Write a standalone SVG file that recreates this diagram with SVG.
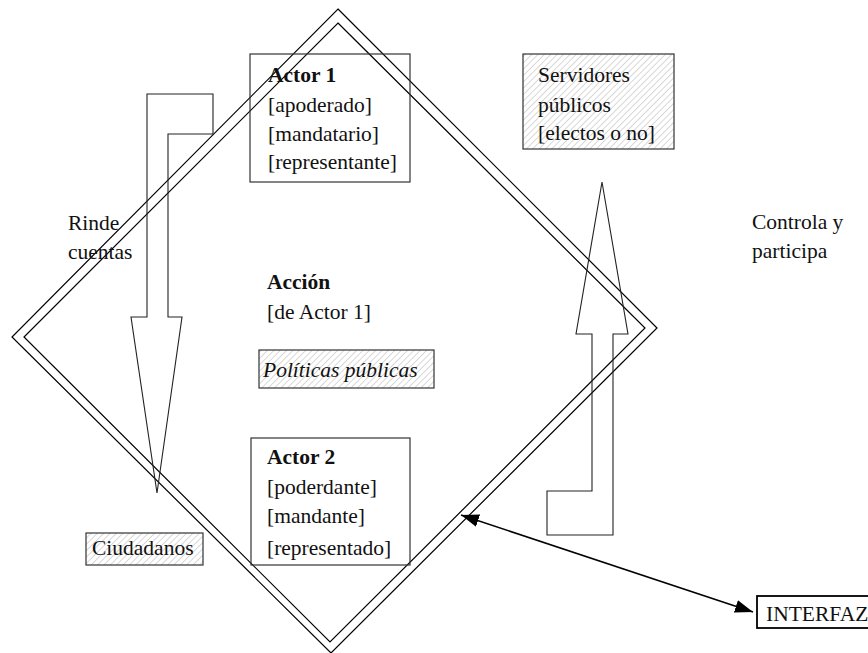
<svg xmlns="http://www.w3.org/2000/svg" width="868" height="653" viewBox="0 0 868 653">
<style>
text{font-family:"Liberation Serif","Times New Roman",serif;font-size:21.5px;fill:#111}
.b{font-weight:bold}
.i{font-style:italic}
.box{fill:none;stroke:#333;stroke-width:1.2}
.hbox{fill:url(#hatch);stroke:#333;stroke-width:1.2}
.dia{fill:none;stroke:#000;stroke-width:1.2}
.arr{fill:none;stroke:#222;stroke-width:1.1;stroke-linejoin:miter}
.con{fill:none;stroke:#000;stroke-width:1.6}
</style>
<defs>
<pattern id="hatch" patternUnits="userSpaceOnUse" width="4.5" height="4.5" patternTransform="rotate(45)">
<rect width="4.5" height="4.5" fill="#fff"/>
<line x1="0" y1="0" x2="0" y2="4.5" stroke="#c4c4c4" stroke-width="1.3"/>
</pattern>
<marker id="ah2" viewBox="0 0 18 13" refX="18" refY="6.5" markerWidth="18" markerHeight="13" markerUnits="userSpaceOnUse" orient="auto-start-reverse">
<path d="M0,0 L18,6.5 L0,13 Z" fill="#000"/>
</marker>
</defs>
<g id="diamond">
<polygon class="dia" points="338,9 657,328 331,653 12,337"/>
<polygon class="dia" points="338,23 645,328 330,642 24,337"/>
</g>
<g id="actor1">
<rect class="box" x="250" y="54" width="160" height="128"/>
<text class="b" x="268" y="82">Actor 1</text>
<text x="268" y="112">[apoderado]</text>
<text x="268" y="141">[mandatario]</text>
<text x="268" y="169">[representante]</text>
</g>
<g id="servidores">
<rect class="hbox" x="523" y="54" width="151" height="95"/>
<text x="538" y="82">Servidores</text>
<text x="538" y="112">públicos</text>
<text x="538" y="140">[electos o no]</text>
</g>
<g id="accion">
<text class="b" x="267" y="289">Acción</text>
<text x="267" y="319">[de Actor 1]</text>
</g>
<g id="politicas">
<rect class="hbox" x="259" y="350" width="175" height="38"/>
<text class="i" x="263" y="377">Políticas públicas</text>
</g>
<g id="actor2">
<rect class="box" x="251" y="438" width="159" height="127"/>
<text class="b" x="267" y="464">Actor 2</text>
<text x="267" y="494">[poderdante]</text>
<text x="267" y="523">[mandante]</text>
<text x="267" y="555">[representado]</text>
</g>
<g id="ciudadanos">
<rect class="hbox" x="86" y="533" width="117" height="32"/>
<text x="92" y="555">Ciudadanos</text>
</g>
<g id="rinde">
<text x="68" y="230">Rinde</text>
<text x="68" y="259">cuentas</text>
</g>
<g id="controla">
<text x="752" y="229">Controla y</text>
<text x="752" y="258">participa</text>
</g>
<g id="interfaz">
<rect x="757" y="596" width="120" height="32" fill="none" stroke="#000" stroke-width="1.8"/>
<text x="766" y="621">INTERFAZ</text>
</g>
<g id="connectors">
<polygon class="arr" points="147,94 213,94 213,134 168,134 168,317 182,317 157,493 131,317 147,317"/>
<polygon class="arr" points="602,182 628,334 613,334 613,535 547,535 547,491 592,491 592,334 576,334"/>
<line class="con" x1="461" y1="515" x2="753" y2="612" marker-start="url(#ah2)" marker-end="url(#ah2)"/>
</g>
</svg>
